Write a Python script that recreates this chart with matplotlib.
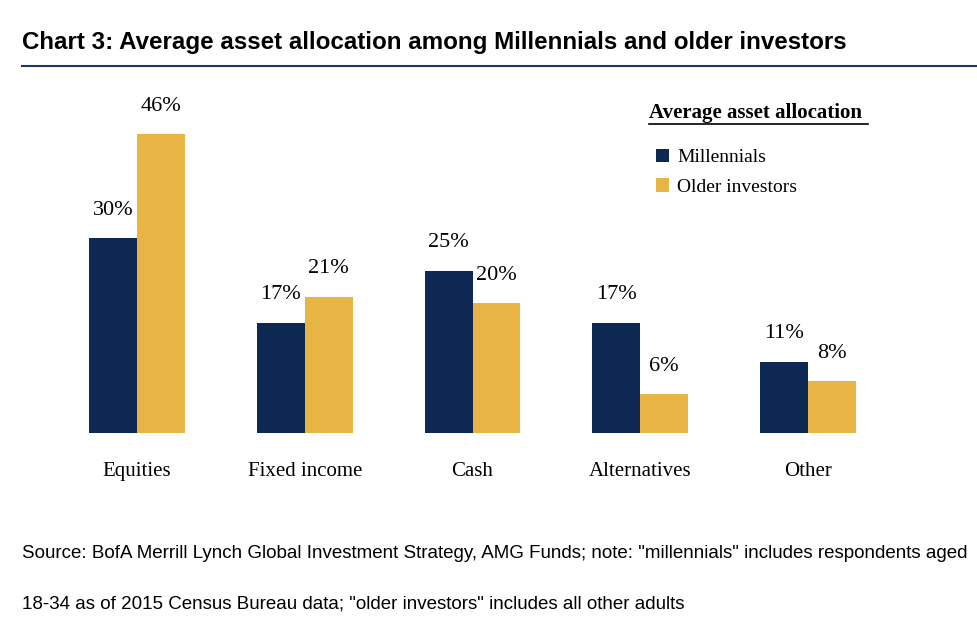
import matplotlib
matplotlib.use("Agg")
import matplotlib.pyplot as plt
from matplotlib.lines import Line2D
import numpy as np

categories = ["Equities", "Fixed income", "Cash", "Alternatives", "Other"]
millennials = [30, 17, 25, 17, 11]
older_investors = [46, 21, 20, 6, 8]
series_names = ["Millennials", "Older investors"]

title = "Chart 3: Average asset allocation among Millennials and older investors"
legend_title = "Average asset allocation"
source_lines = [
    'Source: BofA Merrill Lynch Global Investment Strategy, AMG Funds; note: "millennials" includes respondents aged',
    '18-34 as of 2015 Census Bureau data; "older investors" includes all other adults',
]

NAVY = "#0c2853"
GOLD = "#e8b443"
sans = "Liberation Sans"
serif = "Liberation Serif"

W, H = 977, 632
fig = plt.figure(figsize=(W / 100, H / 100), dpi=100)


def fx(px):
    return px / W


def fy(py):
    return 1 - py / H


# axes: x from 53 to 892 px, y from 108 (50%) down to 433 (0%)
ax = fig.add_axes([fx(53), fy(433), fx(892) - fx(53), fy(108) - fy(433)])
x = np.arange(len(categories))
width = 0.285
b1 = ax.bar(x - width / 2, millennials, width, color=NAVY, label=series_names[0])
b2 = ax.bar(x + width / 2, older_investors, width, color=GOLD, label=series_names[1])

for bars, vals in ((b1, millennials), (b2, older_investors)):
    for bar, v in zip(bars, vals):
        ax.annotate(f"{v}%", (bar.get_x() + bar.get_width() / 2, v),
                    xytext=(0, 13), textcoords="offset points",
                    ha="center", va="bottom", family=serif, fontsize=16)

ax.set_xlim(-0.5, len(categories) - 0.5)
ax.set_ylim(0, 50)
ax.set_xticks(x)
ax.set_xticklabels(categories, family=serif, fontsize=15)
ax.tick_params(axis="x", length=0, pad=21)
ax.set_yticks([])
for s in ax.spines.values():
    s.set_visible(False)

# legend
fig.text(fx(649), fy(113), legend_title, family=serif, fontweight="bold",
         fontsize=15, ha="left", va="center")
fig.add_artist(Line2D([fx(649), fx(868)], [fy(124), fy(124)], color="black", lw=1.2))
ax.legend(loc="upper left", bbox_to_anchor=(fx(646), fy(139)),
          bbox_transform=fig.transFigure, frameon=False,
          handlelength=0.7, handleheight=0.7, handletextpad=0.4,
          labelspacing=0.6, borderpad=0, prop={"family": serif, "size": 14})

# title and rule
fig.text(fx(22), fy(42), title, family=sans, fontweight="bold", fontsize=17.4,
         ha="left", va="center")
fig.add_artist(Line2D([fx(22), 1], [fy(66), fy(66)], color="#1d3461", lw=1.5))

# source
for line, py in zip(source_lines, (553, 604)):
    fig.text(fx(22), fy(py), line, family=sans, fontsize=13.5, ha="left", va="center")

fig.savefig("out.png", dpi=100)
